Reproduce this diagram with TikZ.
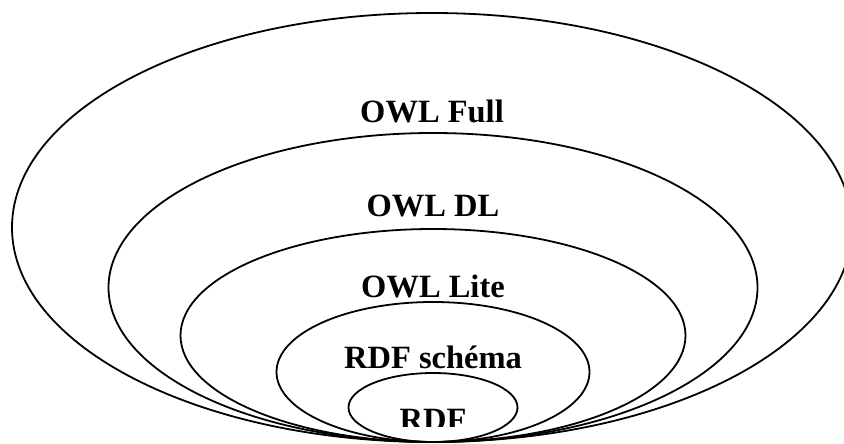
\documentclass[tikz,border=0pt]{standalone}
\usepackage{fontspec}
\setmainfont{Liberation Serif}
\begin{document}
\begin{tikzpicture}[x=1pt,y=-1pt,
  layer/.style={draw=black,line width=1.8pt},
  lbl/.style={font=\bfseries\fontsize{32.5}{39}\selectfont,anchor=base,inner sep=0pt}]
  \useasboundingbox (0,0) rectangle (844,444);
  \clip (0,0) rectangle (844,444);
  % nested language layers, all touching at the bottom
  \draw[layer] (432,227.5) ellipse [x radius=420,  y radius=214.5];
  \draw[layer] (433,287.5) ellipse [x radius=324.5, y radius=154.5];
  \draw[layer] (433,335.5) ellipse [x radius=252.5, y radius=106.5];
  \draw[layer] (433,372)   ellipse [x radius=156.5, y radius=70];
  \draw[layer] (433,407.5) ellipse [x radius=84.5,  y radius=34.5];
  % labels
  \node[lbl] (full)   at (432,122) {OWL Full};
  \node[lbl] (dl)     at (433,216) {OWL DL};
  \node[lbl] (lite)   at (433,297) {OWL Lite};
  \node[lbl] (schema) at (433,368) {RDF schéma};
  \begin{scope}
    \clip (300,390) rectangle (560,426.5);
    \node[lbl] (rdf) at (433,430) {RDF};
  \end{scope}
\end{tikzpicture}
\end{document}
